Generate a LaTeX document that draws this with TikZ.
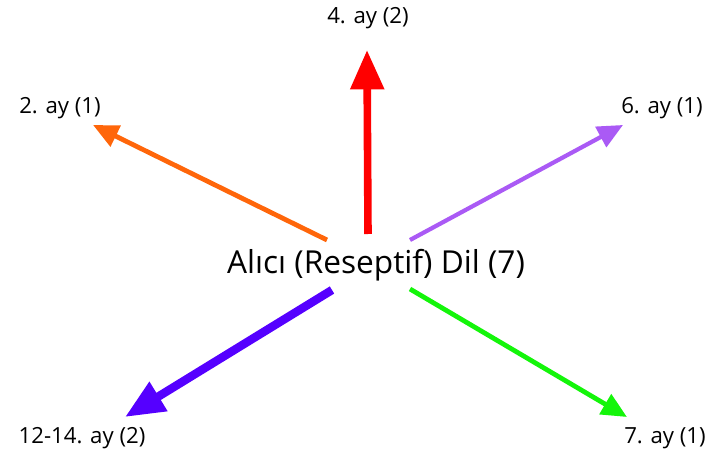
\documentclass[tikz,border=0pt]{standalone}
\usepackage{fontspec}
\setmainfont{Open Sans}
\usepackage{tikz}
\usetikzlibrary{arrows.meta, positioning}
\definecolor{armorange}{RGB}{255, 102, 10}
\definecolor{armred}{RGB}{255, 0, 0}
\definecolor{armpurple}{RGB}{170, 90, 245}
\definecolor{armviolet}{RGB}{85, 0, 255}
\definecolor{armgreen}{RGB}{20, 245, 10}

\tikzset{
    lbl/.style={font=\fontsize{15.8}{18}\selectfont, inner sep=0pt},
    thinarm/.style={line width=3.4pt, -{Triangle[length=18pt, width=16pt]}},
    thickarm/.style={line width=5.4pt, -{Triangle[length=28pt, width=23pt]}}
}

\begin{document}
\begin{tikzpicture}[x=0.025cm, y=-0.025cm]
    \useasboundingbox (0,0) rectangle (712,453);

    \node[font=\fontsize{22.5}{26}\selectfont, inner sep=0pt] (hub) at (376,265) {Alıcı (Reseptif) Dil (7)};

    \node[lbl] (m4) at (368,18) {4. ay (2)};
    \node[lbl] (m2) at (60,108) {2. ay (1)};
    \node[lbl] (m6) at (662,108) {6. ay (1)};
    \node[lbl] (m12) at (82,438) {12-14. ay (2)};
    \node[lbl] (m7) at (665,438) {7. ay (1)};

    % arm ends
    \coordinate (t4) at (368,234);
    \coordinate (h4) at (367,50);
    \coordinate (t2) at (327,240);
    \coordinate (h2) at (93,125);
    \coordinate (t6) at (410,240);
    \coordinate (h6) at (623,125);
    \coordinate (t12) at (332,290);
    \coordinate (h12) at (125,417);
    \coordinate (t7) at (410,289);
    \coordinate (h7) at (627,417);

    \draw[thickarm, armred] (t4) -- (h4);
    \draw[thinarm, armorange] (t2) -- (h2);
    \draw[thinarm, armpurple, line width=3pt] (t6) -- (h6);
    \draw[thickarm, armviolet, line width=6pt] (t12) -- (h12);
    \draw[thinarm, armgreen] (t7) -- (h7);
\end{tikzpicture}
\end{document}
